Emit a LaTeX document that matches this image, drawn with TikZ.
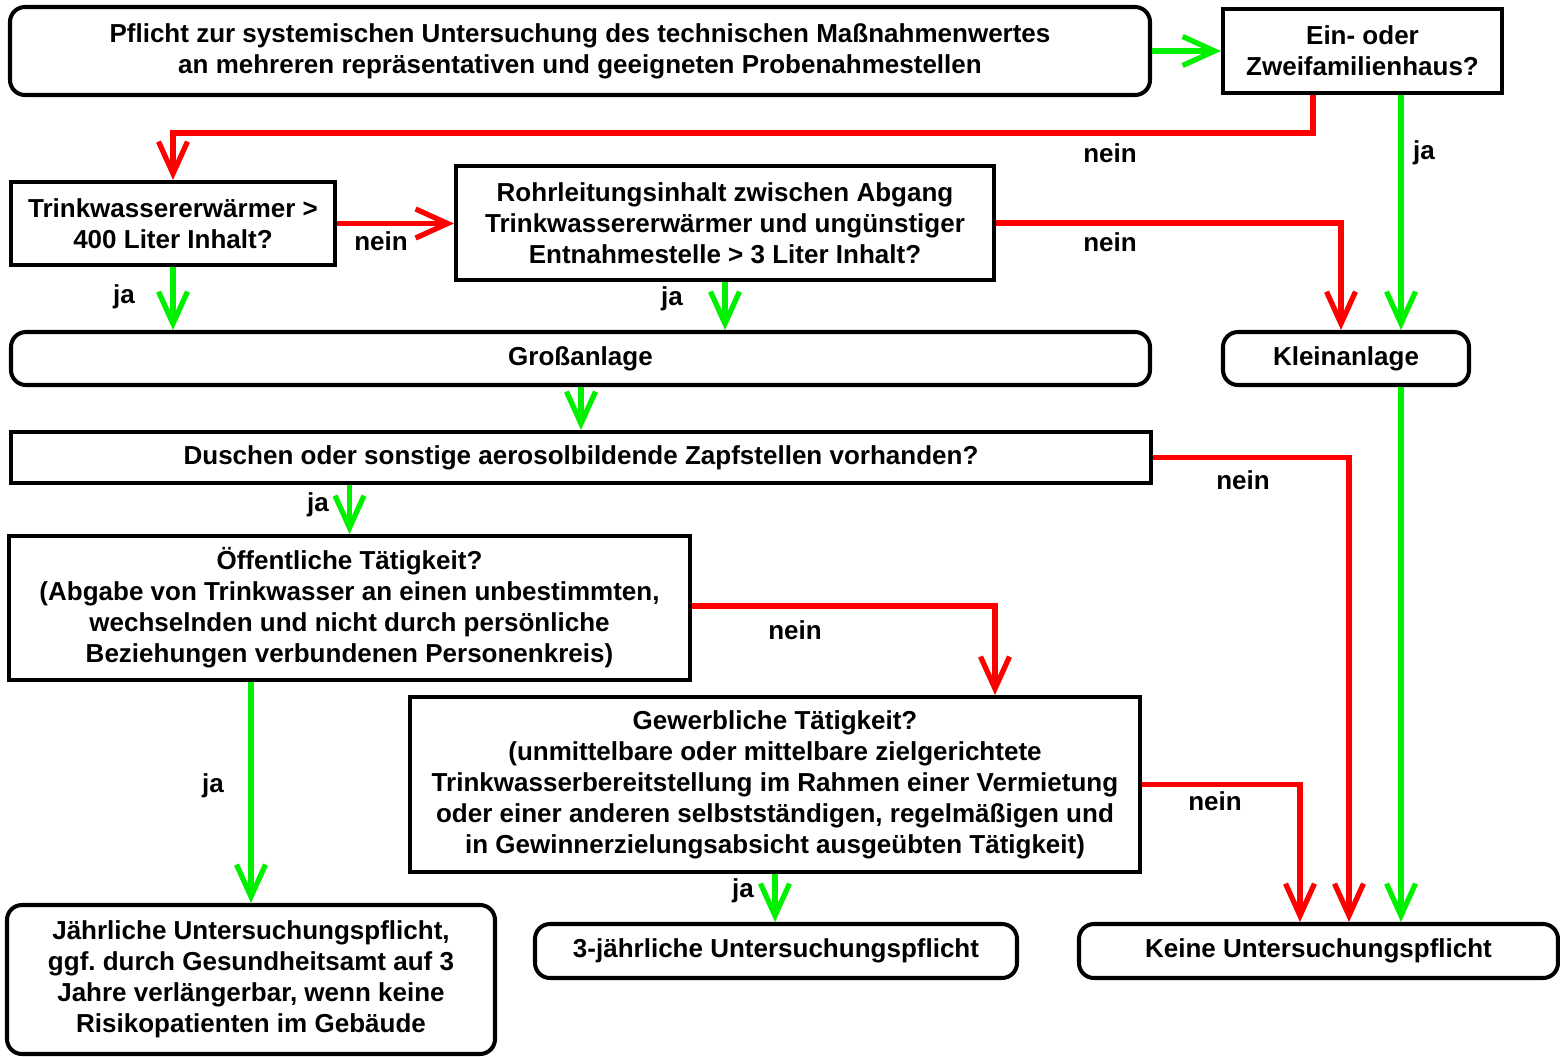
\documentclass[tikz,border=0pt]{standalone}
\usepackage{fontspec}
\setmainfont{Liberation Sans}
\usetikzlibrary{arrows.meta, positioning, calc}
\definecolor{jagreen}{HTML}{00F000}
\definecolor{neinred}{HTML}{FF0000}
\frenchspacing

\begin{document}
\begin{tikzpicture}[
  box/.style={
    draw=black, line width=2.3pt, fill=white,
    inner sep=0pt, align=center, text=black,
    font=\fontsize{14.8}{17.6}\selectfont\bfseries
  },
  roundbox/.style={box, rounded corners=0.3cm},
  flow/.style={line width=3pt, -{Straight Barb[length=0.64cm, width=0.58cm]}},
  ja/.style={flow, draw=jagreen},
  nein/.style={flow, draw=neinred},
  lbl/.style={font=\fontsize{14.8}{17.6}\selectfont\bfseries, text=black}
]
  \useasboundingbox (0,0) rectangle (31.2,-21.12);

  % Kopfzeile
  \node[roundbox, minimum width=22.8cm, minimum height=1.76cm] (pflicht) at (11.6,-1.02)
    {Pflicht zur systemischen Untersuchung des technischen Maßnahmenwertes\\an mehreren repräsentativen und geeigneten Probenahmestellen};
  \node[box, minimum width=5.58cm, minimum height=1.68cm] (haus) at (27.25,-1.02)
    {Ein- oder\\Zweifamilienhaus?};

  % Groesse der Anlage
  \node[box, minimum width=6.48cm, minimum height=1.66cm] (speicher) at (3.46,-4.47)
    {Trinkwassererwärmer >\\400 Liter Inhalt?};
  \node[box, minimum width=10.76cm, minimum height=2.28cm] (rohr) at (14.5,-4.46)
    {Rohrleitungsinhalt zwischen Abgang\\Trinkwassererwärmer und ungünstiger\\Entnahmestelle > 3 Liter Inhalt?};
  \node[roundbox, minimum width=22.78cm, minimum height=1.06cm] (gross) at (11.61,-7.17) {Großanlage};
  \node[roundbox, minimum width=4.92cm, minimum height=1.06cm] (klein) at (26.92,-7.17) {Kleinanlage};

  % Nutzung
  \node[box, minimum width=22.8cm, minimum height=1.02cm] (dusch) at (11.62,-9.15)
    {Duschen oder sonstige aerosolbildende Zapfstellen vorhanden?};
  \node[box, minimum width=13.62cm, minimum height=2.88cm] (oeff) at (6.99,-12.16)
    {Öffentliche Tätigkeit?\\(Abgabe von Trinkwasser an einen unbestimmten,\\wechselnden und nicht durch persönliche\\Beziehungen verbundenen Personenkreis)};
  \node[box, minimum width=14.6cm, minimum height=3.5cm] (gew) at (15.5,-15.69)
    {Gewerbliche Tätigkeit?\\(unmittelbare oder mittelbare zielgerichtete\\Trinkwasserbereitstellung im Rahmen einer Vermietung\\oder einer anderen selbstständigen, regelmäßigen und\\in Gewinnerzielungsabsicht ausgeübten Tätigkeit)};

  % Ergebnisse
  \node[roundbox, minimum width=9.76cm, minimum height=2.98cm] (jaehr) at (5.02,-19.59)
    {Jährliche Untersuchungspflicht,\\ggf. durch Gesundheitsamt auf 3\\Jahre verlängerbar, wenn keine\\Risikopatienten im Gebäude};
  \node[roundbox, minimum width=9.64cm, minimum height=1.08cm] (drei) at (15.52,-19.02)
    {3-jährliche Untersuchungspflicht};
  \node[roundbox, minimum width=9.58cm, minimum height=1.08cm] (keine) at (26.37,-19.02)
    {Keine Untersuchungspflicht};

  % Hilfspunkte
  \coordinate (hausknick) at (26.26,-2.66);
  \coordinate (jaspur) at (28.02,0);

  % Verbindungen
  \draw[ja] (pflicht.east) -- (haus.west);
  \draw[nein] (haus.south -| hausknick) -- (hausknick) -| (speicher.north);
  \draw[ja] (haus.south -| jaspur) -- (klein.north -| jaspur);
  \draw[nein] (speicher.east) -- (speicher.east -| rohr.west);
  \draw[nein] (rohr.east) -| ([xshift=-0.1cm]klein.north);
  \draw[ja] (speicher.south) -- (speicher.south |- gross.north);
  \draw[ja] (rohr.south) -- (rohr.south |- gross.north);
  \draw[ja] (gross.south -| dusch.north) -- (dusch.north);
  \draw[nein] (dusch.east) -| ([xshift=0.61cm]keine.north);
  \draw[ja] (klein.south -| jaspur) -- (keine.north -| jaspur);
  \draw[ja] (dusch.south -| oeff.north) -- (oeff.north);
  \draw[nein] ([yshift=0.04cm]oeff.east) -| ([xshift=4.4cm]gew.north);
  \draw[ja] (oeff.south -| jaehr.north) -- (jaehr.north);
  \draw[nein] (gew.east) -| ([xshift=-0.37cm]keine.north);
  \draw[ja] (gew.south) -- (gew.south |- drei.north);

  % Beschriftungen
  \node[lbl] (l1) at (22.2,-3.06) {nein};
  \node[lbl] (l2) at (28.48,-3.06) {ja};
  \node[lbl] (l3) at (7.62,-4.82) {nein};
  \node[lbl] (l4) at (22.2,-4.84) {nein};
  \node[lbl] (l5) at (2.48,-5.94) {ja};
  \node[lbl] (l6) at (13.44,-5.98) {ja};
  \node[lbl] (l7) at (24.86,-9.6) {nein};
  \node[lbl] (l8) at (6.36,-10.1) {ja};
  \node[lbl] (l9) at (15.9,-12.6) {nein};
  \node[lbl] (l10) at (4.26,-15.72) {ja};
  \node[lbl] (l11) at (24.3,-16.02) {nein};
  \node[lbl] (l12) at (14.86,-17.82) {ja};
\end{tikzpicture}
\end{document}
